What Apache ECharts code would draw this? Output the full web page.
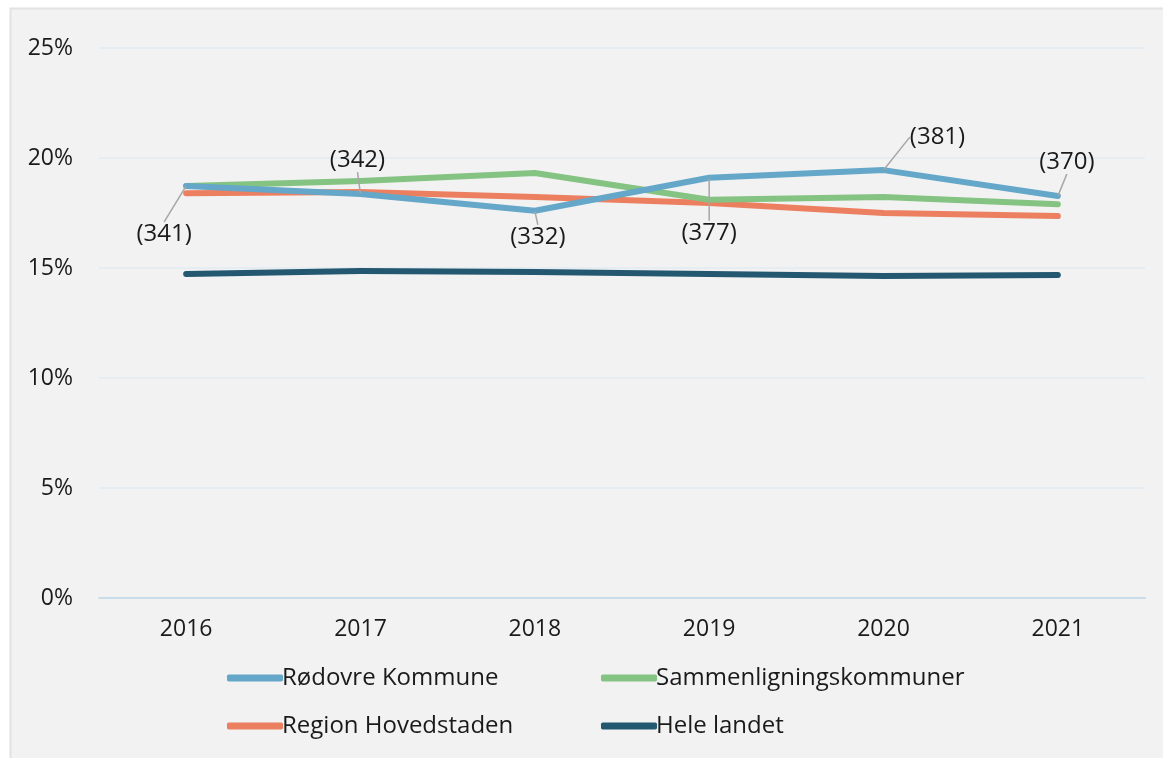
<!DOCTYPE html>
<html><head><meta charset="utf-8">
<style>html,body{margin:0;padding:0;background:#fff}#c{width:1163px;height:758px}</style>
<script src="https://cdn.jsdelivr.net/npm/echarts@6/dist/echarts.min.js"></script>
</head><body><div id="c"></div>
<script>
const years = ['2016','2017','2018','2019','2020','2021'];
const rodovre = [18.73, 18.36, 17.6, 19.1, 19.45, 18.27];
const sammenligning = [18.73, 18.95, 19.32, 18.1, 18.23, 17.9];
const region = [18.4, 18.45, 18.23, 17.95, 17.5, 17.36];
const heleLandet = [14.73, 14.86, 14.82, 14.73, 14.64, 14.68];
const rodovreLabels = ['(341)', '(342)', '(332)', '(377)', '(381)', '(370)'];

const chart = echarts.init(document.getElementById('c'), null, {renderer:'canvas'});
const font = '"Open Sans", "Noto Sans", sans-serif';
const txt = '#1a1a1a';
const offs = [[-22,48],[-3,-34],[3,26],[0,55],[54,-33],[9,-34]];

function line(name, data, color, extra){
  return Object.assign({
    name, type:'line', data,
    symbol:'none', lineStyle:{width:6, color, cap:'round', join:'round'},
    itemStyle:{color}, silent:true, animation:false
  }, extra||{});
}

chart.setOption({
  backgroundColor:'#ffffff',
  animation:false,
  graphic:[{type:'rect', z:-10, shape:{x:10.5, y:8.5, width:1160, height:760},
    style:{fill:'#f2f2f2', stroke:'#e2e2e2', lineWidth:2}}],
  grid:{left:99, right:18, top:48, bottom:160},
  xAxis:{type:'category', data:years, boundaryGap:true,
    axisLine:{show:true, lineStyle:{color:'#c9dce9', width:2}},
    axisTick:{show:false},
    axisLabel:{color:txt, fontFamily:font, fontSize:23, margin:20}},
  yAxis:{type:'value', min:0, max:25, interval:5,
    axisLine:{show:false}, axisTick:{show:false},
    splitLine:{lineStyle:{color:'#e1ebf3', width:1.5}},
    axisLabel:{color:txt, fontFamily:font, fontSize:23, margin:26, formatter:'{value}%'}},
  legend:[
    {data:['Rødovre Kommune','Region Hovedstaden'], orient:'vertical', left:222, top:658,
     itemWidth:56, itemHeight:7, itemGap:18, icon:'roundRect',
     textStyle:{color:txt, fontFamily:font, fontSize:24, lineHeight:30, padding:[0,0,0,-6]}},
    {data:['Sammenligningskommuner','Hele landet'], orient:'vertical', left:596, top:658,
     itemWidth:56, itemHeight:7, itemGap:18, icon:'roundRect',
     textStyle:{color:txt, fontFamily:font, fontSize:24, lineHeight:30, padding:[0,0,0,-6]}}
  ],
  series:[
    line('Hele landet', heleLandet, '#245870'),
    line('Region Hovedstaden', region, '#ec7f60'),
    line('Sammenligningskommuner', sammenligning, '#84c382'),
    line('Rødovre Kommune', rodovre, '#64a7c8', {
      z:3,
      symbol:'circle', symbolSize:1, showSymbol:true,
      label:{show:true, position:'inside', fontFamily:font, fontSize:24, color:txt,
        formatter:p => rodovreLabels[p.dataIndex]},
      labelLine:{show:true, lineStyle:{color:'#a6a6a6', width:1.5}},
      labelLayout:p => ({dx:offs[p.dataIndex][0], dy:offs[p.dataIndex][1]})
    })
  ]
});
</script></body></html>
